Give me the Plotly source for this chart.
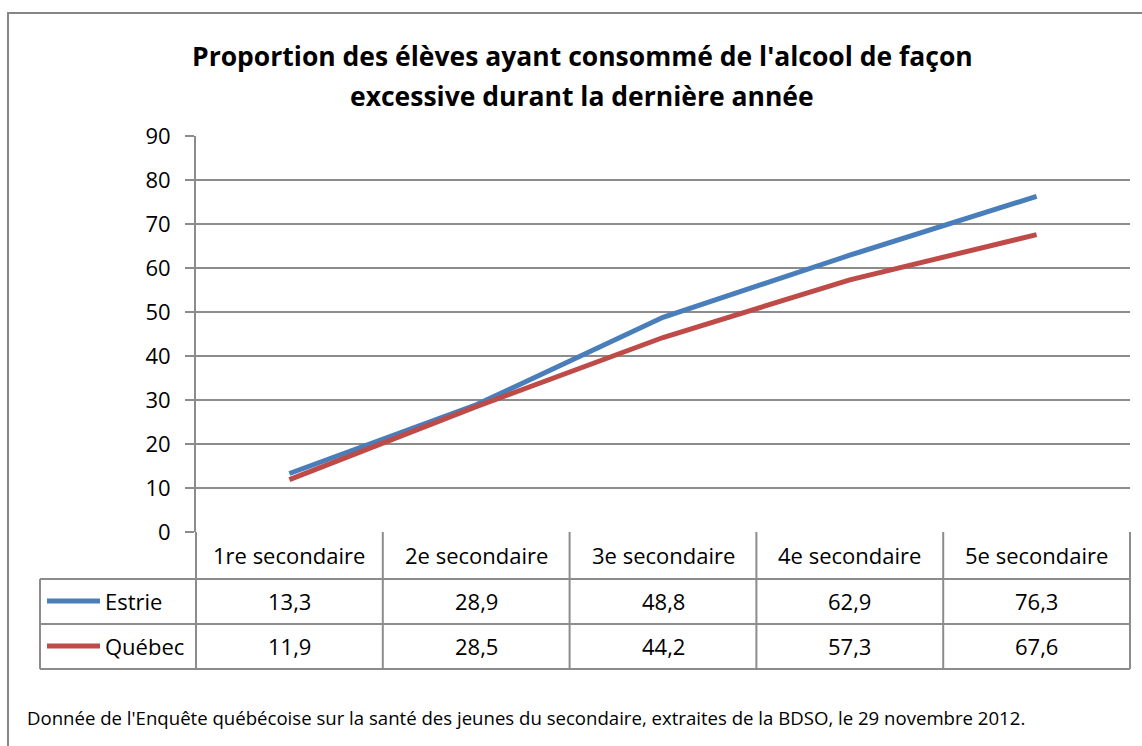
import plotly.graph_objects as go

categories = ["1re secondaire", "2e secondaire", "3e secondaire", "4e secondaire", "5e secondaire"]
estrie = [13.3, 28.9, 48.8, 62.9, 76.3]
quebec = [11.9, 28.5, 44.2, 57.3, 67.6]
series_names = ["Estrie", "Québec"]
series_colors = ["#4A7EBB", "#BE4B48"]
y_ticks = [0, 10, 20, 30, 40, 50, 60, 70, 80, 90]
title_lines = ["Proportion des élèves ayant consommé de l'alcool de façon",
               "excessive durant la dernière année"]
footnote = ("Donnée de l'Enquête québécoise sur la santé des jeunes du secondaire, "
            "extraites de la BDSO, le 29 novembre 2012.")

W, H = 1142, 746
L, R, T, B = 196, 1130, 136, 532
FONT = "Open Sans"
GRID = "#8C8C8C"
TXT = 22


def px(x):
    return (x - L) / (R - L)


def py(y):
    return (B - y) / (B - T)


fig = go.Figure()
for name, vals, col in zip(series_names, [estrie, quebec], series_colors):
    fig.add_trace(go.Scatter(x=categories, y=vals, mode="lines", name=name,
                             line=dict(color=col, width=5), showlegend=False))

shapes = []
annotations = []


def hline(x0, x1, y, w=2):
    shapes.append(dict(type="line", xref="paper", yref="paper", x0=px(x0), x1=px(x1),
                       y0=py(y), y1=py(y), line=dict(color=GRID, width=w), layer="above"))


def vline(x, y0, y1, w=2):
    shapes.append(dict(type="line", xref="paper", yref="paper", x0=px(x), x1=px(x),
                       y0=py(y0), y1=py(y1), line=dict(color=GRID, width=w), layer="above"))


# outer frame
shapes.append(dict(type="rect", xref="paper", yref="paper", x0=px(8), x1=px(1170),
                   y0=py(13), y1=py(780), line=dict(color="#868686", width=2)))

# data table grid
n = len(categories)
cw = (R - L) / n
row_lines = [532, 579, 624, 669]
for k in range(n + 1):
    vline(L + k * cw, 532, 669)
vline(40, 579, 669)
for yy in row_lines[1:]:
    hline(40, R, yy)

# header row
for i, c in enumerate(categories):
    annotations.append(dict(xref="paper", yref="paper", x=px(L + (i + 0.5) * cw), y=py(555),
                            text=c, showarrow=False, xanchor="center", yanchor="middle",
                            font=dict(family=FONT, size=TXT, color="#000")))

# value rows + legend keys
row_centers = [601, 646]
for r, (name, vals, col) in enumerate(zip(series_names, [estrie, quebec], series_colors)):
    yc = row_centers[r]
    shapes.append(dict(type="line", xref="paper", yref="paper", x0=px(47), x1=px(100),
                       y0=py(yc), y1=py(yc), line=dict(color=col, width=5)))
    annotations.append(dict(xref="paper", yref="paper", x=px(103), y=py(yc), text=name,
                            showarrow=False, xanchor="left", yanchor="middle",
                            font=dict(family=FONT, size=TXT, color="#000")))
    for i, v in enumerate(vals):
        annotations.append(dict(xref="paper", yref="paper", x=px(L + (i + 0.5) * cw), y=py(yc),
                                text=f"{v:.1f}".replace(".", ","), showarrow=False,
                                xanchor="center", yanchor="middle",
                                font=dict(family=FONT, size=TXT, color="#000")))

# title
for j, t in enumerate(title_lines):
    annotations.append(dict(xref="paper", yref="paper", x=px(582), y=py(56 + 40 * j),
                            text=f"<b>{t}</b>", showarrow=False, xanchor="center",
                            yanchor="middle", font=dict(family=FONT, size=26.5, color="#000")))

# footnote
annotations.append(dict(xref="paper", yref="paper", x=px(25), y=py(717), text=footnote,
                        showarrow=False, xanchor="left", yanchor="middle",
                        font=dict(family=FONT, size=18.6, color="#000")))

fig.update_layout(
    width=W, height=H, autosize=False,
    margin=dict(l=L, r=W - R, t=T, b=H - B, pad=0),
    paper_bgcolor="white", plot_bgcolor="white",
    shapes=shapes, annotations=annotations,
    xaxis=dict(range=[-0.5, n - 0.5], showticklabels=False, showgrid=False,
               zeroline=False, showline=False, ticks=""),
    yaxis=dict(range=[0, 90], tickvals=y_ticks, showgrid=True, gridcolor=GRID, gridwidth=2,
               zeroline=False, showline=True, linecolor=GRID, linewidth=2,
               ticks="outside", ticklen=9, tickcolor=GRID, tickwidth=2,
               ticklabelstandoff=10,
               tickfont=dict(family=FONT, size=22, color="#000")),
)

fig.write_html("out.html", config={"displayModeBar": False},
               post_script="document.body.style.margin='0';document.body.style.overflow='hidden';")
